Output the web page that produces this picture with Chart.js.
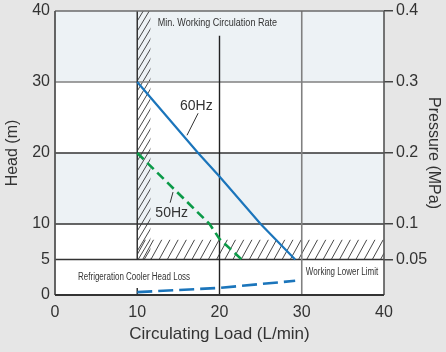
<!DOCTYPE html>
<html><head><meta charset="utf-8">
<script src="https://cdn.jsdelivr.net/npm/chart.js@4.4.0/dist/chart.umd.min.js"></script>
<style>html,body{margin:0;padding:0;background:#e6e6e6;overflow:hidden}</style>
</head><body>
<canvas id="c" width="446" height="352"></canvas>
<script>
// ---- data ----
const loadTicks = [0, 10, 20, 30, 40];
const headTicks = [0, 5, 10, 20, 30, 40];
const pressureTicks = [0.05, 0.1, 0.2, 0.3, 0.4];
const hz60Load = [10, 17.4, 20, 25, 29.2];
const hz60Head = [30, 20, 16.7, 10, 5];
const hz50Load = [10, 18.8, 20, 22.7];
const hz50Head = [20, 10, 7.9, 5];
const lossLoad = [10, 20, 29.2];
const lossHead = [0.4, 1.0, 2.0];
const minRateLoad = [10, 11.6];
const lowerLimitHead = [5, 7.8];
const shadedBands = [[10, 20], [30, 40]];

const FONT = "'Liberation Sans', Arial, sans-serif";
const pts = (xs, ys) => xs.map((v, i) => ({x: v, y: ys[i]}));

function hatch(ctx, x0, y0, x1, y1, step, k) {
  ctx.save();
  ctx.beginPath(); ctx.rect(x0, y0, x1 - x0, y1 - y0); ctx.clip();
  const H = y1 - y0;
  ctx.strokeStyle = '#333'; ctx.lineWidth = 0.9;
  ctx.beginPath();
  for (let s = x0 - H * k - step; s < x1 + step; s += step) {
    ctx.moveTo(s, y1); ctx.lineTo(s + H * k, y0);
  }
  ctx.stroke();
  ctx.restore();
}
function line(ctx, x0, y0, x1, y1, color, w) {
  ctx.strokeStyle = color; ctx.lineWidth = w;
  ctx.beginPath(); ctx.moveTo(x0, y0); ctx.lineTo(x1, y1); ctx.stroke();
}
function narrowText(ctx, text, px, py, size, squeeze) {
  ctx.save();
  ctx.translate(px, py);
  ctx.scale(squeeze, 1);
  ctx.font = size + 'px ' + FONT;
  ctx.fillText(text, 0, 0);
  ctx.restore();
}

const bgPlugin = {
  id: 'bg',
  beforeDatasetsDraw(chart) {
    const {ctx, chartArea: a, scales: {x, y}} = chart;
    const X = v => x.getPixelForValue(v), Y = v => y.getPixelForValue(v);
    ctx.save();
    ctx.fillStyle = '#ffffff';
    ctx.fillRect(a.left, a.top, a.right - a.left, a.bottom - a.top);
    ctx.fillStyle = '#edf2f5';
    shadedBands.forEach(([lo, hi]) => ctx.fillRect(a.left, Y(hi), a.right - a.left, Y(lo) - Y(hi)));
    hatch(ctx, X(minRateLoad[0]), Y(40), X(minRateLoad[1]), Y(lowerLimitHead[0]), 6, 0.6);
    hatch(ctx, X(minRateLoad[0]), Y(lowerLimitHead[1]), a.right, Y(lowerLimitHead[0]), 8.2, 0.55);
    line(ctx, a.left, Y(30), a.right, Y(30), '#808080', 1.6);
    line(ctx, a.left, Y(20), a.right, Y(20), '#333', 1.5);
    line(ctx, a.left, Y(10), a.right, Y(10), '#333', 1.5);
    line(ctx, a.left, Y(5), a.right, Y(5), '#333', 1.5);
    line(ctx, X(20), Y(36.5), X(20), a.bottom, '#222', 1.4);
    line(ctx, X(30), a.top, X(30), a.bottom, '#808080', 1.6);
    line(ctx, X(10), a.top, X(10), Y(5), '#333', 1.5);
    line(ctx, X(10), Y(1), X(10), a.bottom, '#333', 1.5);
    line(ctx, a.left, a.top, a.right, a.top, '#6a6a6a', 1.6);
    line(ctx, a.right, a.top, a.right, a.bottom, '#555', 1.6);
    line(ctx, a.left, a.top, a.left, a.bottom, '#555', 1.8);
    line(ctx, a.left, a.bottom, a.right, a.bottom, '#333', 1.8);
    ctx.restore();
  },
  afterDatasetsDraw(chart) {
    const {ctx, scales: {x, y}} = chart;
    const X = v => x.getPixelForValue(v), Y = v => y.getPixelForValue(v);
    ctx.save();
    ctx.fillStyle = '#333';
    ctx.textBaseline = 'middle';
    ctx.textAlign = 'left';
    narrowText(ctx, 'Min. Working Circulation Rate', X(12.5), Y(38.3), 11, 0.82);
    narrowText(ctx, 'Refrigeration Cooler Head Loss', X(2.8), Y(2.5), 10, 0.8);
    narrowText(ctx, 'Working Lower Limit', X(30.5), Y(3.2), 10, 0.8);
    ctx.font = '14px ' + FONT;
    ctx.fillText('60Hz', X(15.2), Y(26.6));
    ctx.fillText('50Hz', X(12.2), Y(11.5));
    line(ctx, X(17.4), Y(25.6), X(16.05), Y(22.5), '#333', 1);
    line(ctx, X(14.35), Y(14.5), X(14.0), Y(13.0), '#333', 1);
    ctx.restore();
  }
};

const tickFont = {family: FONT, size: 16};
new Chart(document.getElementById('c'), {
  type: 'scatter',
  data: {
    datasets: [
      {label: '60Hz', data: pts(hz60Load, hz60Head), showLine: true, borderColor: '#1b75bb', borderWidth: 2.2, pointRadius: 0, yAxisID: 'y'},
      {label: '50Hz', data: pts(hz50Load, hz50Head), showLine: true, borderColor: '#0b9a48', borderWidth: 2.6, borderDash: [9, 5], pointRadius: 0, yAxisID: 'y'},
      {label: 'Head Loss', data: pts(lossLoad, lossHead), showLine: true, borderColor: '#1b75bb', borderWidth: 2.6, borderDash: [15, 6], pointRadius: 0, yAxisID: 'y'}
    ]
  },
  options: {
    responsive: false, animation: false, devicePixelRatio: 1,
    layout: {padding: {top: 11, left: 0, right: 0, bottom: 0}},
    plugins: {legend: {display: false}, tooltip: {enabled: false}},
    scales: {
      x: {
        type: 'linear', position: 'bottom', min: 0, max: 40,
        afterBuildTicks: s => { s.ticks = loadTicks.map(v => ({value: v})); },
        afterFit: s => { s.height = 57; s.paddingLeft = 0; s.paddingRight = 0; },
        grid: {display: false, drawTicks: false}, border: {display: false},
        ticks: {font: tickFont, color: '#333', padding: 8, maxRotation: 0},
        title: {display: true, text: 'Circulating Load (L/min)', font: {family: FONT, size: 17}, color: '#333', padding: {top: 0, bottom: 7}}
      },
      y: {
        type: 'linear', position: 'left', min: 0, max: 40,
        afterBuildTicks: s => { s.ticks = headTicks.map(v => ({value: v})); },
        afterFit: s => { s.width = 55; s.paddingTop = 0; s.paddingBottom = 0; },
        grid: {display: false, drawTicks: false}, border: {display: false},
        ticks: {font: tickFont, color: '#333', padding: 5},
        title: {display: true, text: 'Head (m)', font: {family: FONT, size: 16}, color: '#333', padding: {top: 3, bottom: 0}}
      },
      y2: {
        type: 'linear', position: 'right', min: 0, max: 0.4,
        afterBuildTicks: s => { s.ticks = pressureTicks.map(v => ({value: v})); },
        afterFit: s => { s.width = 62; s.paddingTop = 0; s.paddingBottom = 0; },
        grid: {display: true, drawOnChartArea: false, drawTicks: true, tickLength: 9, color: '#444', lineWidth: 1.5},
        border: {display: false},
        ticks: {font: tickFont, color: '#333', padding: 3, callback: v => String(v)},
        title: {display: true, text: 'Pressure (MPa)', font: {family: FONT, size: 16}, color: '#333', padding: {top: 3, bottom: 0}}
      }
    }
  },
  plugins: [bgPlugin]
});
</script>
</body></html>
